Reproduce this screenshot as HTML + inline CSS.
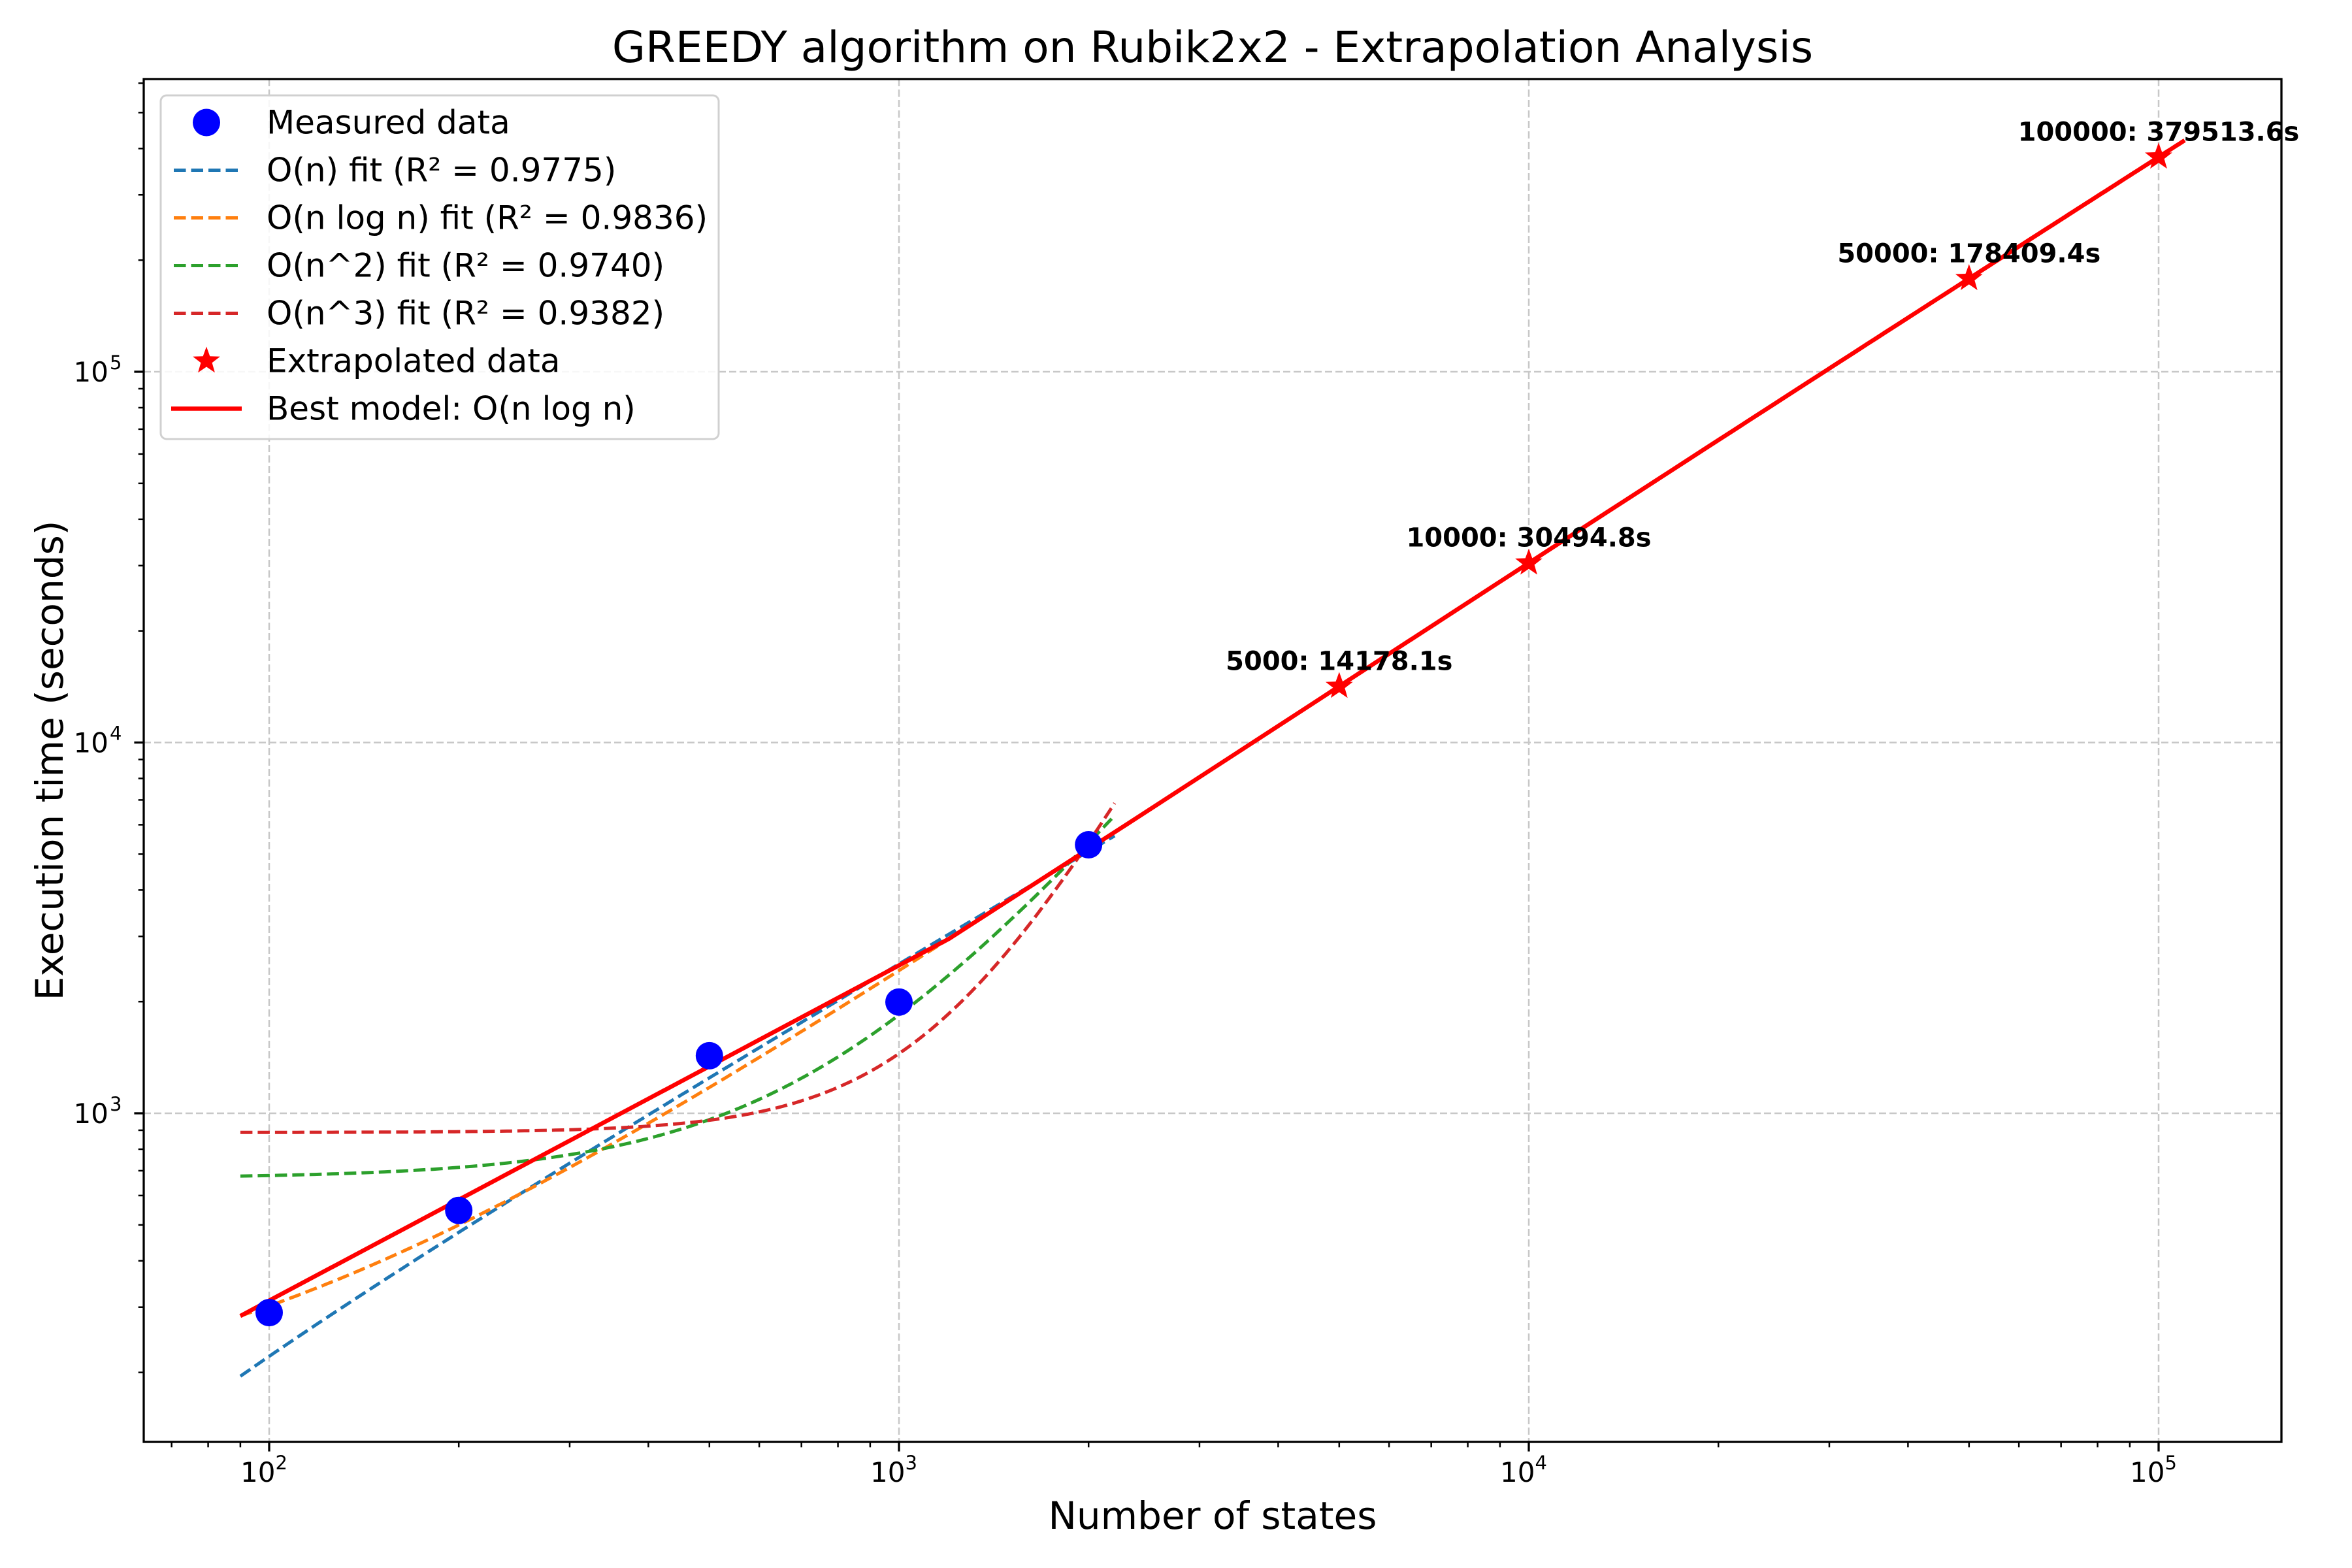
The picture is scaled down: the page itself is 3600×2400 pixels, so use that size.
<!DOCTYPE html>
<html><head><meta charset="utf-8"><style>
html,body{margin:0;padding:0;background:#fff;}
svg{display:block;font-family:"DejaVu Sans","Liberation Sans",sans-serif;}
</style></head><body>
<svg id="chart" width="3600" height="2400" viewBox="0 0 3600 2400" xmlns="http://www.w3.org/2000/svg">
<rect width="3600" height="2400" fill="#fff"/>
<g id="grid"></g>
<g id="series"></g>
<g id="axes"></g>
<text x="1856" y="95" font-size="66" text-anchor="middle">GREEDY algorithm on Rubik2x2 - Extrapolation Analysis</text>
<text x="1856" y="2340" font-size="58" text-anchor="middle">Number of states</text>
<text x="0" y="0" font-size="58" text-anchor="middle" transform="translate(96,1164) rotate(-90)">Execution time (seconds)</text>
<g id="legend"></g>
</svg>
<script>
const measuredN = [100, 200, 500, 1000, 2000];
const measuredT = [290, 547, 1430, 1995, 5300];
const extrapN = [5000, 10000, 50000, 100000];
const extrapT = [14178.1, 30494.8, 178409.4, 379513.6];
const extrapLabels = ["5000: 14178.1s", "10000: 30494.8s", "50000: 178409.4s", "100000: 379513.6s"];
const fitNames = ["O(n)", "O(n log n)", "O(n^2)", "O(n^3)"];
const fitR2 = ["0.9775", "0.9836", "0.9740", "0.9382"];
const fitColors = ["#1f77b4", "#ff7f0e", "#2ca02c", "#d62728"];
const xTickExps = [2, 3, 4, 5];
const yTickExps = [3, 4, 5];

const L = 220, R = 3492, T = 121, B = 2207;
const X10 = 2340, XD = 964;
const Y5 = 569, YD = 567.5;
function sx(v){ return X10 + (Math.log10(v) - 4) * XD; }
function sy(v){ return Y5 - (Math.log10(v) - 5) * YD; }
const xmin = Math.pow(10, 4 - (X10 - L) / XD), xmax = Math.pow(10, 4 + (R - X10) / XD);
const ymin = Math.pow(10, 5 - (B - Y5) / YD), ymax = Math.pow(10, 5 + (Y5 - T) / YD);
const NS = "http://www.w3.org/2000/svg";
function mk(tag, attrs, parent){ const e = document.createElementNS(NS, tag); for (const k in attrs) e.setAttribute(k, attrs[k]); parent.appendChild(e); return e; }

const grid = document.getElementById('grid'), series = document.getElementById('series'), axes = document.getElementById('axes'), legend = document.getElementById('legend');

xTickExps.forEach(e => { const x = sx(Math.pow(10, e));
  const l = mk('line', {x1:x, x2:x, y1:T, y2:B, stroke:'#c8c8c8', 'stroke-width':2.5, 'stroke-dasharray':'11 5'}, grid);
  
   });
yTickExps.forEach(e => { const y = sy(Math.pow(10, e));
  const l = mk('line', {x1:L, x2:R, y1:y, y2:y, stroke:'#c8c8c8', 'stroke-width':2.5, 'stroke-dasharray':'11 5'}, grid);
  
   });

const basis = [n => n, n => n * Math.log(n), n => n * n, n => n * n * n];
function fit(f){ const xs = measuredN.map(f), m = xs.length;
  const mx = xs.reduce((a,b)=>a+b,0)/m, my = measuredT.reduce((a,b)=>a+b,0)/m;
  let sxx = 0, sxy = 0; xs.forEach((x,i)=>{ sxx += (x-mx)*(x-mx); sxy += (x-mx)*(measuredT[i]-my); });
  const a = sxy/sxx; return [a, my - a*mx]; }
function curveLog(f, c, n0, n1){ const pts = []; for (let i = 0; i <= 200; i++){ const n = n0 * Math.pow(n1/n0, i/200); const v = c[0]*f(n)+c[1]; if (v > 0) pts.push(sx(n).toFixed(1)+','+sy(v).toFixed(1)); } return pts.join(' '); }
function curveLin(f, c, n0, n1, k){ const pts = []; for (let i = 0; i < k; i++){ const n = n0 + (n1-n0)*i/(k-1); const v = c[0]*f(n)+c[1]; if (v > 0) pts.push(sx(n).toFixed(1)+','+sy(v).toFixed(1)); } return pts.join(' '); }
const nMin = Math.min(...measuredN)*0.9, nMax = Math.max(...measuredN)*1.1;
basis.forEach((f, i) => { const c = fit(f);
  const p = mk('polyline', {points: curveLog(f, c, nMin, nMax), fill:'none', stroke:fitColors[i], 'stroke-width':5, 'stroke-dasharray':'18.5 8'}, series);
  
   });
const bestC = fit(basis[1]);
const best = mk('polyline', {points: curveLin(basis[1], bestC, nMin, Math.max(...extrapN)*1.1, 100), fill:'none', stroke:'#ff0000', 'stroke-width':6.5, 'stroke-linejoin':'round'}, series);



measuredN.forEach((n, i) => { const c = mk('circle', {cx:sx(n), cy:sy(measuredT[i]), r:21, fill:'#0000ff'}, series);
  
   });

function starPts(cx, cy, ro, ri){ const p = []; for (let k = 0; k < 10; k++){ const r = k%2 ? ri : ro; const a = -Math.PI/2 + k*Math.PI/5; p.push((cx + r*Math.cos(a)).toFixed(1)+','+(cy + r*Math.sin(a)).toFixed(1)); } return p.join(' '); }
extrapN.forEach((n, i) => { const x = sx(n), y = sy(extrapT[i]);
  const s = mk('polygon', {points: starPts(x, y, 22, 9), fill:'#ff0000'}, series);
  
  
  const t = mk('text', {x:x, y:y - 25, 'font-size':40, 'font-weight':'bold', 'text-anchor':'middle'}, series);
  t.textContent = extrapLabels[i];
  
   });

const fr = mk('rect', {x:L, y:T, width:R-L, height:B-T, fill:'none', stroke:'#000', 'stroke-width':3.3}, axes);


for (let e = 1; e <= 6; e++) for (let m = 1; m <= 9; m++){ const v = m*Math.pow(10, e); if (v < xmin || v > xmax) continue;
  const x = sx(v), len = m === 1 ? 14.6 : 8.3;
  const tk = mk('line', {x1:x, x2:x, y1:B, y2:B+len, stroke:'#000', 'stroke-width': m === 1 ? 3.3 : 2.5}, axes);
  
   }
xTickExps.forEach(e => { const x = sx(Math.pow(10, e));
  const t = mk('text', {x:x - 8, y:2268, 'font-size':42, 'text-anchor':'middle'}, axes);
  t.innerHTML = '10<tspan dy="-19" font-size="29">' + e + '</tspan>';
  
   });
for (let e = 1; e <= 6; e++) for (let m = 1; m <= 9; m++){ const v = m*Math.pow(10, e); if (v < ymin || v > ymax) continue;
  const y = sy(v), len = m === 1 ? 14.6 : 8.3;
  const tk = mk('line', {x1:L-len, x2:L, y1:y, y2:y, stroke:'#000', 'stroke-width': m === 1 ? 3.3 : 2.5}, axes);
  
   }
yTickExps.forEach(e => { const y = sy(Math.pow(10, e));
  const t = mk('text', {x:166, y:y + 15, 'font-size':42, 'text-anchor':'end'}, axes);
  t.textContent = '10';
  
  
  const s = mk('text', {x:168, y:y - 4, 'font-size':29, 'text-anchor':'start'}, axes);
  s.textContent = e;
  
   });

const lb = mk('rect', {x:246, y:146, width:854, height:526, rx:9, fill:'#fff', 'fill-opacity':0.85, stroke:'#d0d0d0', 'stroke-width':3}, legend);


const labels = ["Measured data"].concat(fitNames.map((f,i)=> f + " fit (R² = " + fitR2[i] + ")"), ["Extrapolated data", "Best model: O(n log n)"]);
labels.forEach((lab, i) => { const y = 187.5 + i*73;
  if (i === 0){ const c = mk('circle', {cx:316, cy:y, r:21, fill:'#0000ff'}, legend);
    
     }
  else if (i <= 4){ const l = mk('line', {x1:266, x2:366, y1:y, y2:y, stroke:fitColors[i-1], 'stroke-width':5, 'stroke-dasharray':'18.5 8'}, legend);
    
     }
  else if (i === 5){ const s = mk('polygon', {points: starPts(316, y, 22, 9), fill:'#ff0000'}, legend);
    
     }
  else { const l = mk('line', {x1:262, x2:370, y1:y, y2:y, stroke:'#ff0000', 'stroke-width':6.5}, legend);
    
     }
  const t = mk('text', {x:408, y:y + 17, 'font-size':50}, legend);
  t.textContent = lab;
  
   });
</script>
</body></html>
